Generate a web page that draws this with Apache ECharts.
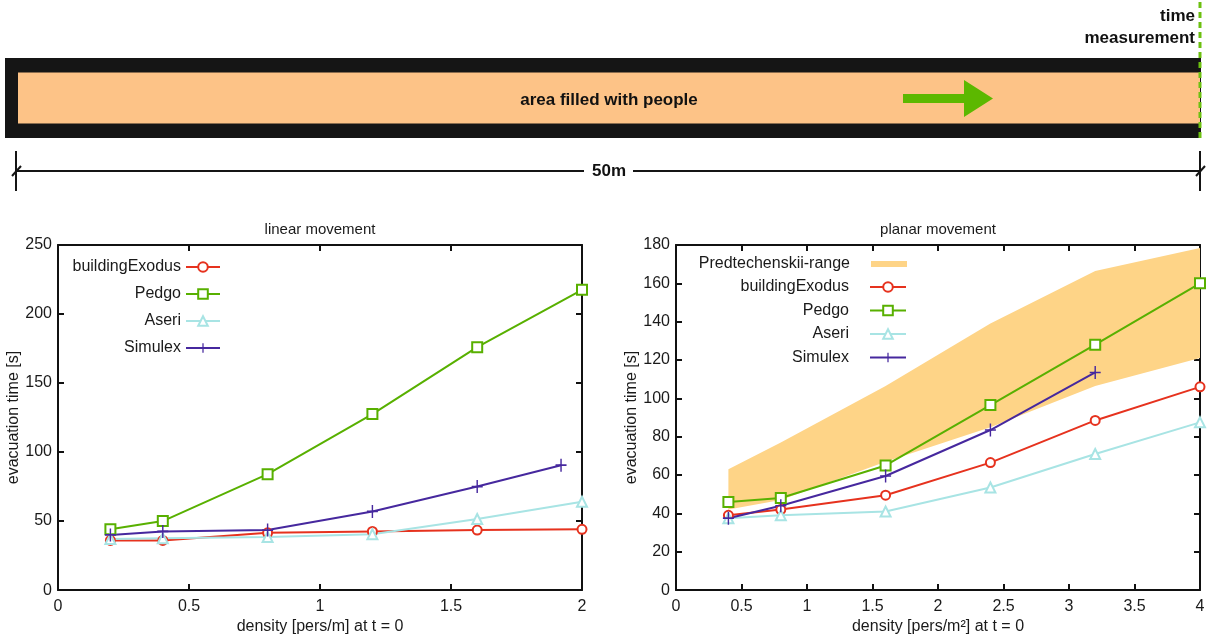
<!DOCTYPE html>
<html>
<head>
<meta charset="utf-8">
<script src="https://cdn.jsdelivr.net/npm/echarts@6/dist/echarts.min.js"></script>
<style>html,body{margin:0;padding:0;background:#fff}#c{width:1213px;height:640px}</style>
</head>
<body>
<div id="c"></div>
<script>
// ---------- data ----------
const seriesNames = ['buildingExodus', 'Pedgo', 'Aseri', 'Simulex'];
const bandName = 'Predtechenskii-range';

// linear movement (density pers/m)
const xLinear = [0.2, 0.4, 0.8, 1.2, 1.6, 2.0];
const linExodus = [36, 36, 41.5, 42.5, 43.5, 44];
const linPedgo = [44, 50, 84, 127.5, 176, 217.5];
const linAseri = [37, 37.5, 38.5, 40.5, 51.5, 64];
const xLinSimulex = [0.2, 0.4, 0.8, 1.2, 1.6, 1.92];
const linSimulex = [40, 42.5, 43.5, 57, 75, 90.5];

// planar movement (density pers/m²)
const xPlanar = [0.4, 0.8, 1.6, 2.4, 3.2, 4.0];
const plExodus = [39, 42, 49.5, 66.5, 88.5, 106];
const plPedgo = [46, 48, 65, 96.5, 128, 160];
const plAseri = [37.5, 39, 41, 53.5, 71, 87.5];
const xPlSimulex = [0.4, 0.8, 1.6, 2.4, 3.2];
const plSimulex = [37.5, 44, 59.5, 83.5, 113.5];
const bandUpper = [63, 77, 106.5, 139, 166.5, 178.5];
const bandLower = [42, 47, 67, 85, 106.5, 121];

// axis ticks
const linXTicks = { min: 0, max: 2, interval: 0.5 };
const linYTicks = { min: 0, max: 250, interval: 50 };
const plXTicks = { min: 0, max: 4, interval: 0.5 };
const plYTicks = { min: 0, max: 180, interval: 20 };

// ---------- styles ----------
const FONT = '"Liberation Sans", Arial, sans-serif';
const C = { red: '#e6321e', green: '#58b000', cyan: '#a8e4e4', purple: '#46289e', band: '#fed487' };
const plusPath = 'path://M4.35,0 L5.65,0 L5.65,4.35 L10,4.35 L10,5.65 L5.65,5.65 L5.65,10 L4.35,10 L4.35,5.65 L0,5.65 L0,4.35 L4.35,4.35 Z';
const styles = {
  buildingExodus: { color: C.red, symbol: 'emptyCircle', size: 9, bw: 1.6 },
  Pedgo: { color: C.green, symbol: 'emptyRect', size: 10, bw: 1.6 },
  Aseri: { color: C.cyan, symbol: 'emptyTriangle', size: 10, bw: 1.6 },
  Simulex: { color: C.purple, symbol: plusPath, size: [11, 13], bw: 0 }
};

function zip(xs, ys) { return xs.map((x, i) => [x, ys[i]]); }
function lineSeries(name, xs, ys, gi) {
  const s = styles[name];
  return {
    type: 'line', name, data: zip(xs, ys),
    xAxisIndex: gi * 2, yAxisIndex: gi * 2,
    symbol: s.symbol, symbolSize: s.size, showAllSymbol: true,
    lineStyle: { color: s.color, width: 2 },
    itemStyle: { color: s.color, borderColor: s.color, borderWidth: s.bw },
    z: 5, animation: false
  };
}

function axisCommon(t, showLabel, pos) {
  return {
    type: 'value', min: t.min, max: t.max, interval: t.interval,
    position: pos,
    axisLine: { show: true, onZero: false, lineStyle: { color: '#111', width: 2 } },
    axisTick: { show: true, inside: true, length: 6, lineStyle: { color: '#111', width: 2 } },
    splitLine: { show: false },
    axisLabel: { show: showLabel, fontFamily: FONT, fontSize: 16, color: '#1a1a1a', margin: 7 }
  };
}

const grids = [
  { left: 58, top: 245, width: 524, height: 352 },
  { left: 676, top: 245, width: 524, height: 350 }
];

const nameStyle = { fontFamily: FONT, fontSize: 16, color: '#1a1a1a' };
const xAxes = [
  Object.assign(axisCommon(linXTicks, true, 'bottom'), { gridIndex: 0, name: 'density [pers/m] at t = 0', nameLocation: 'middle', nameGap: 23, nameTextStyle: nameStyle }),
  Object.assign(axisCommon(linXTicks, false, 'top'), { gridIndex: 0 }),
  Object.assign(axisCommon(plXTicks, true, 'bottom'), { gridIndex: 1, name: 'density [pers/m²] at t = 0', nameLocation: 'middle', nameGap: 25, nameTextStyle: nameStyle }),
  Object.assign(axisCommon(plXTicks, false, 'top'), { gridIndex: 1 })
];
const yAxes = [
  Object.assign(axisCommon(linYTicks, true, 'left'), { gridIndex: 0, name: 'evacuation time [s]', nameLocation: 'middle', nameGap: 33, nameTextStyle: nameStyle }),
  Object.assign(axisCommon(linYTicks, false, 'right'), { gridIndex: 0 }),
  Object.assign(axisCommon(plYTicks, true, 'left'), { gridIndex: 1, name: 'evacuation time [s]', nameLocation: 'middle', nameGap: 33, nameTextStyle: nameStyle }),
  Object.assign(axisCommon(plYTicks, false, 'right'), { gridIndex: 1 })
];
xAxes.forEach(a => { a.axisLabel.margin = 8; });
yAxes.forEach(a => { a.axisLabel.margin = 6; });

const bandSeries = {
  type: 'custom', name: bandName, xAxisIndex: 2, yAxisIndex: 2,
  data: [[xPlanar[0], bandLower[0]]],
  itemStyle: { color: C.band }, z: 1, animation: false, silent: true,
  renderItem: function (params, api) {
    const pts = [];
    for (let i = 0; i < xPlanar.length; i++) pts.push(api.coord([xPlanar[i], bandUpper[i]]));
    for (let i = xPlanar.length - 1; i >= 0; i--) pts.push(api.coord([xPlanar[i], bandLower[i]]));
    return { type: 'polygon', shape: { points: pts }, style: { fill: C.band } };
  }
};

const series = [
  lineSeries('buildingExodus', xLinear, linExodus, 0),
  lineSeries('Pedgo', xLinear, linPedgo, 0),
  lineSeries('Aseri', xLinear, linAseri, 0),
  lineSeries('Simulex', xLinSimulex, linSimulex, 0),
  bandSeries,
  lineSeries('buildingExodus', xPlanar, plExodus, 1),
  lineSeries('Pedgo', xPlanar, plPedgo, 1),
  lineSeries('Aseri', xPlanar, plAseri, 1),
  lineSeries('Simulex', xPlSimulex, plSimulex, 1)
];

const legendText = { fontFamily: FONT, fontSize: 16, color: '#1a1a1a' };
const legends = [
  { orient: 'vertical', align: 'right', right: 992, top: 259, padding: 0, itemGap: 11, itemWidth: 34, itemHeight: 12,
    data: seriesNames, textStyle: legendText, selectedMode: false },
  { orient: 'vertical', align: 'right', right: 306, top: 256, padding: 0, itemWidth: 36, itemHeight: 6,
    data: [{ name: bandName, icon: 'rect' }], textStyle: Object.assign({ padding: [0, 16, 0, 0] }, legendText), selectedMode: false },
  { orient: 'vertical', align: 'right', right: 306, top: 279, padding: 0, itemGap: 7.5, itemWidth: 36, itemHeight: 12,
    data: seriesNames, textStyle: Object.assign({ padding: [0, 16, 0, 0] }, legendText), selectedMode: false }
];

// ---------- top diagram ----------
const ink = '#151515';
const dimStroke = { stroke: ink, lineWidth: 2 };
const boldFont = 'bold 17px ' + FONT;
const graphics = [
  { type: 'rect', shape: { x: 5, y: 58, width: 1196, height: 80 }, style: { fill: ink } },
  { type: 'rect', shape: { x: 18, y: 72.5, width: 1182, height: 51 }, style: { fill: '#fdc387' } },
  { type: 'text', x: 609, y: 100, style: { text: 'area filled with people', font: boldFont, fill: '#111', align: 'center', verticalAlign: 'middle' } },
  { type: 'polygon', shape: { points: [[903, 94], [964, 94], [964, 80], [993, 98.5], [964, 117], [964, 103], [903, 103]] }, style: { fill: '#5cb800' } },
  { type: 'line', shape: { x1: 1200, y1: 2, x2: 1200, y2: 138 }, style: { stroke: '#6cc010', lineWidth: 3, lineDash: [6, 4] } },
  { type: 'text', x: 1195, y: 16, style: { text: 'time', font: boldFont, fill: '#111', align: 'right', verticalAlign: 'middle' } },
  { type: 'text', x: 1195, y: 38, style: { text: 'measurement', font: boldFont, fill: '#111', align: 'right', verticalAlign: 'middle' } },
  { type: 'line', shape: { x1: 16, y1: 151, x2: 16, y2: 191 }, style: dimStroke },
  { type: 'line', shape: { x1: 1200, y1: 151, x2: 1200, y2: 191 }, style: dimStroke },
  { type: 'line', shape: { x1: 16, y1: 171, x2: 584, y2: 171 }, style: dimStroke },
  { type: 'line', shape: { x1: 633, y1: 171, x2: 1200, y2: 171 }, style: dimStroke },
  { type: 'line', shape: { x1: 12, y1: 176, x2: 21, y2: 166 }, style: dimStroke },
  { type: 'line', shape: { x1: 1196, y1: 176, x2: 1205, y2: 166 }, style: dimStroke },
  { type: 'text', x: 609, y: 171, style: { text: '50m', font: boldFont, fill: '#111', align: 'center', verticalAlign: 'middle' } },
  { type: 'text', x: 320, y: 230, style: { text: 'linear movement', font: '15px ' + FONT, fill: '#1a1a1a', align: 'center', verticalAlign: 'middle' } },
  { type: 'text', x: 938, y: 230, style: { text: 'planar movement', font: '15px ' + FONT, fill: '#1a1a1a', align: 'center', verticalAlign: 'middle' } }
];

const chart = echarts.init(document.getElementById('c'), null, { renderer: 'canvas' });
chart.setOption({
  animation: false,
  backgroundColor: '#ffffff',
  grid: grids,
  xAxis: xAxes,
  yAxis: yAxes,
  legend: legends,
  series: series,
  graphic: graphics
});
</script>
</body>
</html>
